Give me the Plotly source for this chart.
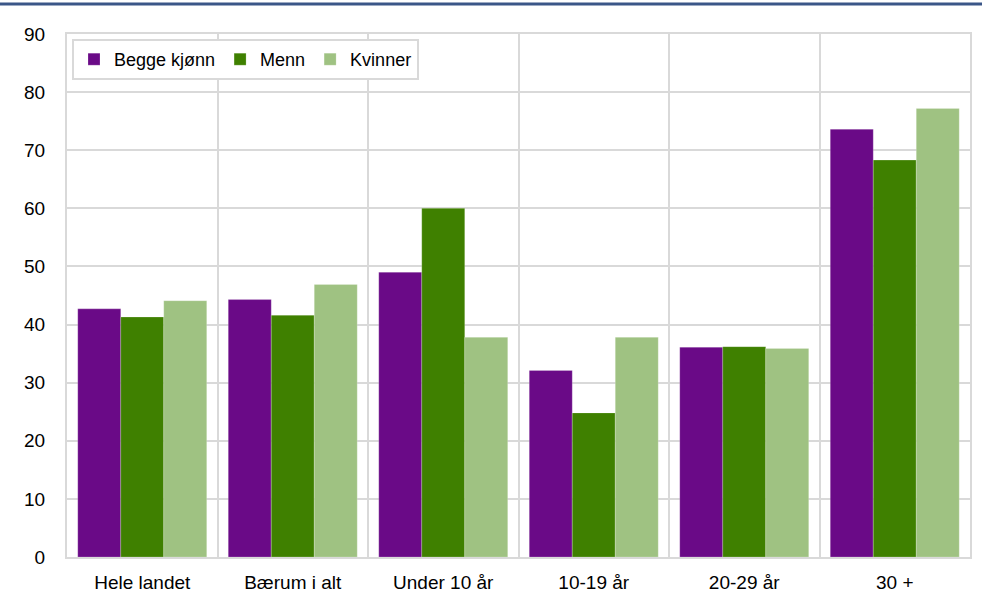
import plotly.graph_objects as go

categories = ["Hele landet", "Bærum i alt", "Under 10 år", "10-19 år", "20-29 år", "30 +"]
begge_kjonn = [42.7, 44.3, 49.0, 32.1, 36.1, 73.6]
menn = [41.3, 41.6, 60.0, 24.8, 36.2, 68.3]
kvinner = [44.1, 46.9, 37.8, 37.8, 35.9, 77.2]

series = [
    ("Begge kjønn", begge_kjonn, "#6a0a87"),
    ("Menn", menn, "#3f8000"),
    ("Kvinner", kvinner, "#9fc282"),
]

fig = go.Figure()
for name, values, color in series:
    fig.add_trace(go.Bar(
        x=categories, y=values, name=name,
        marker=dict(color=color, line=dict(color="rgba(255,255,255,0.35)", width=0.6)),
    ))

W, H = 982, 596
ml, mr, mt, mb = 67, 12, 34, 39
pw, ph = W - ml - mr, H - mt - mb
grid = "#d9d9d9"
font = "Liberation Sans, Arial, sans-serif"

fig.update_layout(
    width=W, height=H,
    margin=dict(l=ml, r=mr, t=mt, b=mb, autoexpand=False),
    paper_bgcolor="white", plot_bgcolor="white",
    barmode="group", bargap=0.143, bargroupgap=0,
    font=dict(family=font, size=19, color="black"),
    showlegend=True,
    legend=dict(
        orientation="h", x=5 / pw, y=1 - 5 / ph, xanchor="left", yanchor="top",
        bgcolor="white", bordercolor=grid, borderwidth=2,
        font=dict(family=font, size=18, color="black"),
        itemwidth=30, tracegroupgap=0,
    ),
    xaxis=dict(
        type="category", tickson="boundaries", showgrid=True, gridcolor=grid, gridwidth=2,
        showline=True, linecolor=grid, linewidth=2, mirror=True, ticks="",
        tickfont=dict(size=19), ticklabelstandoff=7, automargin=False,
    ),
    yaxis=dict(
        range=[0, 90], dtick=10, showgrid=True, gridcolor=grid, gridwidth=2,
        showline=True, linecolor=grid, linewidth=2, mirror=True, ticks="",
        zeroline=False, tickfont=dict(size=19), ticklabelstandoff=16, automargin=False,
    ),
    shapes=[dict(
        type="line", xref="paper", yref="paper",
        x0=-ml / pw, x1=1 + mr / pw, y0=1 + (mt - 4) / ph, y1=1 + (mt - 4) / ph,
        line=dict(color="#3b5688", width=3),
    )],
)

fig.write_html("out.html")
